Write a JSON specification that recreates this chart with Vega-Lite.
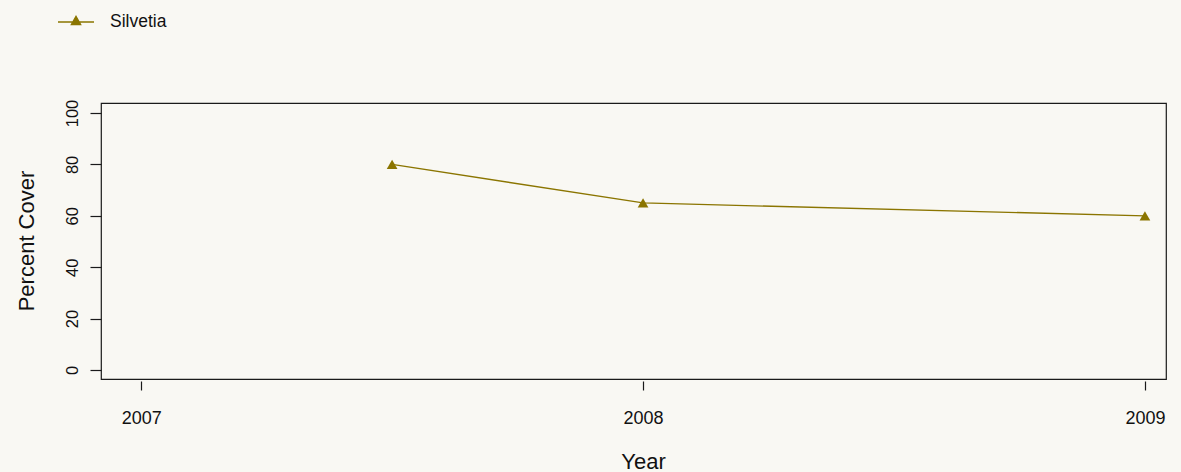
{
  "$schema": "https://vega.github.io/schema/vega-lite/v6.json",
  "width": 1065,
  "height": 276,
  "autosize": {"type": "none"},
  "padding": {"left": 101, "top": 103, "right": 15, "bottom": 93},
  "background": "#F9F8F3",
  "config": {
    "view": {"stroke": "#1a1a1a", "strokeWidth": 1.2},
    "font": "Liberation Sans",
    "axis": {"grid": false, "domain": false, "tickColor": "#1a1a1a", "tickWidth": 1.2, "labelColor": "#111111", "titleColor": "#111111", "titleFontWeight": "normal", "labelFont": "Liberation Sans", "titleFont": "Liberation Sans"}
  },
  "data": {
    "values": [
      {"year": 2007.5, "cover": 80, "series": "Silvetia"},
      {"year": 2008, "cover": 65, "series": "Silvetia"},
      {"year": 2009, "cover": 60, "series": "Silvetia"}
    ]
  },
  "encoding": {
    "x": {
      "field": "year", "type": "quantitative",
      "scale": {"domain": [2006.92, 2009.042], "nice": false, "zero": false},
      "axis": {
        "title": "Year", "values": [2007, 2008, 2009], "format": "d",
        "offset": 2, "tickSize": 9, "labelFontSize": 18, "labelBaseline": "alphabetic",
        "labelPadding": 33, "labelFlush": false, "labelOverlap": false,
        "titleFontSize": 22, "titleX": 542, "titleY": 87, "titleBaseline": "alphabetic", "titleAlign": "center", "titleAnchor": null
      }
    },
    "y": {
      "field": "cover", "type": "quantitative",
      "scale": {"domain": [-3.5, 103.9], "nice": false, "zero": false},
      "axis": {
        "title": "Percent Cover", "values": [0, 20, 40, 60, 80, 100],
        "tickSize": 11, "labelFontSize": 16.5, "labelAngle": -90, "labelAlign": "center",
        "labelBaseline": "alphabetic", "labelPadding": 13, "labelFlush": false, "labelOverlap": false,
        "titleFontSize": 22, "titleAngle": -90, "titleX": -68, "titleY": 137.5, "titleBaseline": "alphabetic", "titleAlign": "center", "titleAnchor": null
      }
    }
  },
  "layer": [
    {
      "mark": {"type": "line", "color": "#8B7500", "strokeWidth": 1.3}
    },
    {
      "mark": {"type": "point", "shape": "triangle-up", "filled": true, "size": 115, "opacity": 1},
      "encoding": {
        "color": {
          "field": "series", "type": "nominal",
          "scale": {"range": ["#8B7500"]},
          "legend": {
            "title": null, "orient": "none", "legendX": -44, "legendY": -100,
            "padding": 0, "labelFontSize": 17.5, "labelColor": "#111111", "labelOffset": 15,
            "labelFont": "Liberation Sans",
            "symbolType": "M-1,0H1M0,-0.31L0.26,0.15L-0.26,0.15Z",
            "symbolSize": 1296,
            "symbolFillColor": "#8B7500",
            "symbolStrokeColor": "#8B7500",
            "symbolStrokeWidth": 1.3,
            "symbolOpacity": 1,
            "encode": {
              "symbols": {
                "update": {
                  "shape": {"value": "M-1,0H1M0,-0.31L0.26,0.15L-0.26,0.15Z"},
                  "size": {"value": 1296},
                  "fill": {"value": "#8B7500"},
                  "stroke": {"value": "#8B7500"},
                  "strokeWidth": {"value": 1.3},
                  "opacity": {"value": 1}
                }
              }
            }
          }
        }
      }
    }
  ]
}
